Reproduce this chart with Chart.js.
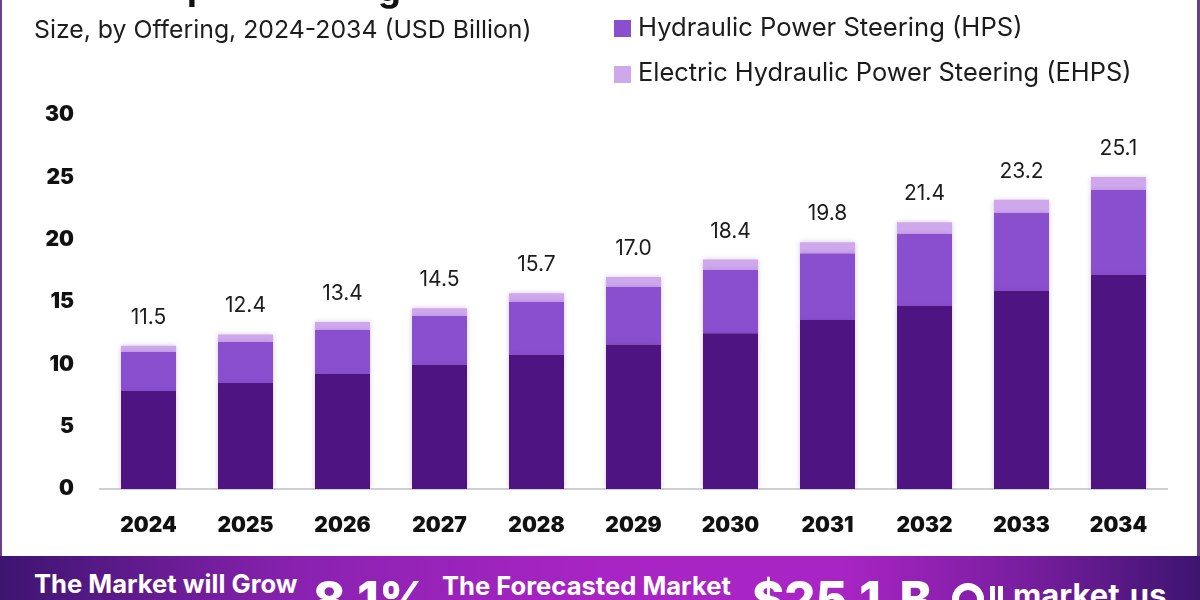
<!DOCTYPE html>
<html>
<head>
<meta charset="utf-8">
<script src="https://cdn.jsdelivr.net/npm/chart.js@4"></script>
<style>
  html, body { margin: 0; padding: 0; background: #fff; }
  body { position: relative; width: 1200px; height: 600px; overflow: hidden; font-family: Inter, sans-serif; color: #1c1c1c; }
  #myChart { position: absolute; left: 0; top: 0; }
  .txt { position: absolute; white-space: nowrap; }
  .swatch { position: absolute; width: 17px; height: 17px; }
  #frameL { position: absolute; left: 0; top: 0; width: 2px; height: 556px; background: #6b3f86; }
  #frameR { position: absolute; right: 0; top: 0; width: 3px; height: 556px; background: #6b3f86; }
  #banner { position: absolute; left: 0; top: 556px; width: 1200px; height: 44px; overflow: hidden;
    background: linear-gradient(90deg, #3d1470 0%, #8a22b0 25%, #a824c4 50%, #a824c4 70%, #7a1ea0 85%, #3d1470 100%); }
  #banner .txt { color: #fff; font-weight: 700; }
  #banner .big { font-size: 49px; font-weight: 800; top: 14px; }
  .logoRing { position: absolute; left: 952px; top: 27px; width: 18px; height: 18px; border: 7px solid #fff; border-radius: 50%; }
  .logoBar { position: absolute; top: 30px; width: 5px; height: 14px; background: #fff; }
</style>
</head>
<body>
<canvas id="myChart" width="1200" height="600"></canvas>
<div id="frameL"></div>
<div id="frameR"></div>

<div class="txt" style="left:187px;top:-35px;font-size:36px;font-weight:700;color:#111;">p</div>
<div class="txt" style="left:378px;top:-34px;font-size:36px;font-weight:700;color:#111;">g</div>
<div class="txt" style="left:34px;top:14px;font-size:24.8px;">Size, by Offering, 2024-2034 (USD Billion)</div>

<div class="swatch" style="left:614px;top:20px;background:#8a4fcf;"></div>
<div class="txt" style="left:638px;top:11px;font-size:25.6px;">Hydraulic Power Steering (HPS)</div>
<div class="swatch" style="left:614px;top:66px;background:#cfa8ec;"></div>
<div class="txt" style="left:638px;top:56px;font-size:25.4px;">Electric Hydraulic Power Steering (EHPS)</div>

<div id="banner">
  <div class="txt" style="left:34px;top:12px;font-size:25.6px;">The Market will Grow</div>
  <div class="txt big" style="left:313px;">8.1%</div>
  <div class="txt" style="left:442px;top:14px;font-size:25.6px;">The Forecasted Market</div>
  <div class="txt big" style="left:752px;word-spacing:8px;">$25.1 B</div>
  <div class="logoRing"></div>
  <div class="logoBar" style="left:990px;"></div>
  <div class="logoBar" style="left:998px;"></div>
  <div class="txt" style="left:1013px;top:20px;font-size:31px;">market.us</div>
</div>

<script>
'use strict'

const years = ['2024', '2025', '2026', '2027', '2028', '2029', '2030', '2031', '2032', '2033', '2034'];
const lowerSeg = [7.86, 8.5, 9.22, 9.94, 10.75, 11.6, 12.5, 13.55, 14.67, 15.88, 17.16];
const hps = [3.13, 3.29, 3.53, 3.93, 4.25, 4.6, 5.06, 5.35, 5.78, 6.25, 6.82];
const ehps = [0.51, 0.61, 0.65, 0.63, 0.7, 0.8, 0.84, 0.9, 0.95, 1.07, 1.05];
const totals = ['11.5', '12.4', '13.4', '14.5', '15.7', '17.0', '18.4', '19.8', '21.4', '23.2', '25.1'];

const tickFont = { family: 'Inter', size: 21, weight: '900' };

// totals above each stack, plus the soft glow round the bars
const barExtras = {
  id: 'barExtras',
  beforeDatasetDraw(chart) {
    chart.ctx.save();
    chart.ctx.shadowColor = 'rgba(110, 60, 170, 0.30)';
    chart.ctx.shadowBlur = 5;
  },
  afterDatasetDraw(chart) {
    chart.ctx.restore();
  },
  afterDatasetsDraw(chart) {
    const ctx = chart.ctx;
    const top = chart.getDatasetMeta(2).data;
    ctx.save();
    ctx.font = '21px Inter';
    ctx.fillStyle = '#1c1c1c';
    ctx.textAlign = 'center';
    ctx.textBaseline = 'alphabetic';
    for (let i = 0; i < totals.length; i++) {
      ctx.fillText(totals[i], top[i].x, top[i].y - 22);
    }
    ctx.restore();
  }
};

let ctx = document.getElementById('myChart').getContext('2d');

let chart = new Chart(ctx, {
  type: 'bar',
  data: {
    labels: years,
    datasets: [
      { label: 'Lower segment', data: lowerSeg, backgroundColor: '#4e1582' },
      { label: 'Hydraulic Power Steering (HPS)', data: hps, backgroundColor: '#8a4fcf' },
      { label: 'Electric Hydraulic Power Steering (EHPS)', data: ehps, backgroundColor: '#cfa8ec' }
    ]
  },
  options: {
    responsive: false,
    animation: false,
    datasets: { bar: { categoryPercentage: 1, barPercentage: 55 / 97 } },
    layout: { padding: { top: 115, right: 33, left: 0, bottom: 0 } },
    plugins: { legend: { display: false }, tooltip: { enabled: false } },
    scales: {
      x: {
        stacked: true,
        afterFit(scale) { scale.height = 111; },
        grid: { display: false, drawTicks: false },
        border: { color: '#cfcfd4', width: 2 },
        ticks: { color: '#111', font: tickFont, padding: 24, maxRotation: 0 }
      },
      y: {
        stacked: true,
        min: 0,
        max: 30,
        afterFit(scale) { scale.width = 100; },
        grid: { display: false, drawTicks: false },
        border: { display: false },
        ticks: { stepSize: 5, color: '#111', font: tickFont, padding: 26 }
      }
    }
  },
  plugins: [barExtras]
});
</script>
</body>
</html>
